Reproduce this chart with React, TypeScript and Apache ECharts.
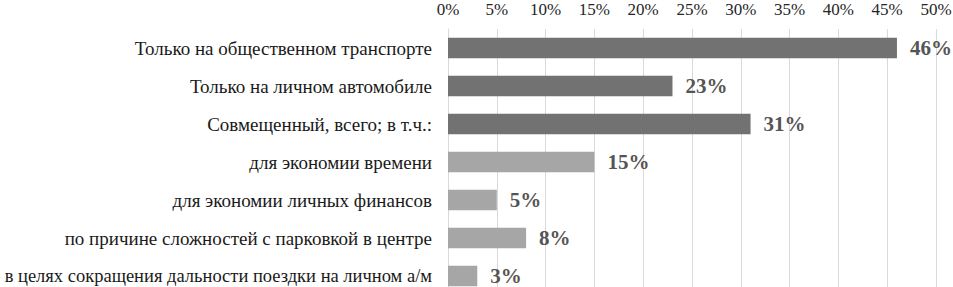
import React, { useEffect, useRef } from "react";
import * as echarts from "echarts";

const categories = [
  "Только на общественном транспорте",
  "Только на личном автомобиле",
  "Совмещенный, всего; в т.ч.:",
  "для экономии времени",
  "для экономии личных финансов",
  "по причине сложностей с парковкой в центре",
  "в целях сокращения дальности поездки на личном а/м",
];
const values = [46, 23, 31, 15, 5, 8, 3];
const isTotal = [true, true, true, false, false, false, false];

const FONT = "'Times New Roman', 'Liberation Serif', serif";

export default function App() {
  const ref = useRef<HTMLDivElement>(null);
  useEffect(() => {
    if (!ref.current) return;
    const chart = echarts.init(ref.current, undefined, { renderer: "svg" });
    const last = categories.length - 1;
    chart.setOption({
      animation: false,
      textStyle: { fontFamily: FONT },
      grid: {
        left: 448,
        right: 17,
        top: 29,
        bottom: 5,
        containLabel: false,
        outerBoundsMode: "none",
      },
      xAxis: {
        type: "value",
        position: "top",
        min: 0,
        max: 50,
        interval: 5,
        axisLabel: {
          formatter: "{value}%",
          fontFamily: FONT,
          fontSize: 17,
          color: "#262626",
          margin: 11,
        },
        axisLine: { show: false },
        axisTick: { show: false },
        splitLine: { show: true, lineStyle: { color: "#d9d9d9", width: 1 } },
      },
      yAxis: {
        type: "category",
        inverse: true,
        data: categories.map((c, i) =>
          i === last ? { value: c, textStyle: { fontSize: 18.5 } } : c
        ),
        axisLabel: {
          fontFamily: FONT,
          fontSize: 19,
          color: "#1a1a1a",
          margin: 16,
        },
        axisLine: { show: true, lineStyle: { color: "#d9d9d9" } },
        axisTick: { show: false },
      },
      series: [
        {
          type: "bar",
          barCategoryGap: "46%",
          data: values.map((v, i) => ({
            value: v,
            itemStyle: { color: isTotal[i] ? "#727272" : "#a6a6a6" },
          })),
          label: {
            show: true,
            position: "right",
            distance: 13,
            formatter: "{c}%",
            fontFamily: FONT,
            fontSize: 21,
            fontWeight: "bold",
            color: "#555555",
          },
        },
      ],
    });
    return () => chart.dispose();
  }, []);
  return (
    <div
      style={{
        position: "absolute",
        left: 0,
        top: 0,
        width: 953,
        height: 287,
        overflow: "hidden",
        background: "#fff",
      }}
    >
      <div ref={ref} style={{ width: 953, height: 300 }} />
    </div>
  );
}
